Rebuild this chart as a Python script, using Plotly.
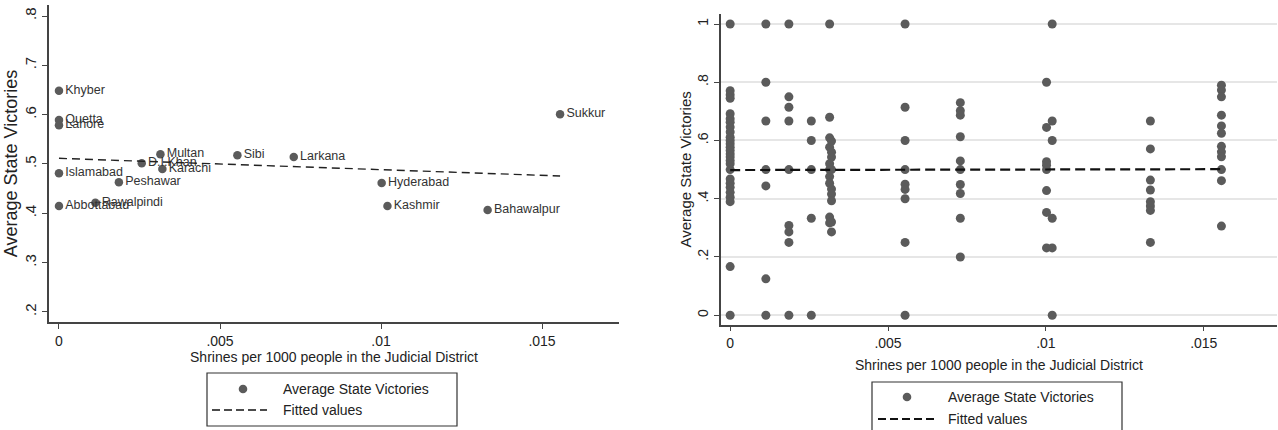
import plotly.graph_objects as go

W, H = 1278, 430
FONT = "Arial, Liberation Sans, sans-serif"
DOT = "#5b5b5b"
GRID = "#e6e6e6"
AXIS = "#444444"

# ---------------- Left panel data (district level) ----------------
districts = ["Khyber", "Quetta", "Lahore", "Islamabad", "Abbottabad", "Rawalpindi",
             "Peshawar", "D.I.Khan", "Multan", "Karachi", "Sibi", "Larkana",
             "Hyderabad", "Kashmir", "Bahawalpur", "Sukkur"]
district_shrines = [0, 0, 0, 0, 0, 0.00113, 0.00186, 0.00257, 0.00315, 0.00321,
                    0.00554, 0.00729, 0.01002, 0.0102, 0.01331, 0.01556]
district_victories = [0.6486, 0.5892, 0.5784, 0.4811, 0.4148, 0.4215, 0.4629, 0.5014,
                      0.5196, 0.4898, 0.5176, 0.5142, 0.4615, 0.4148, 0.4067, 0.6007]
left_fit_x = [0, 0.01556]
left_fit_y = [0.5115, 0.4757]

# ---------------- Right panel data (individual observations) ----------------
col_x = [0, 0.00113, 0.00186, 0.00257, 0.00315, 0.00321, 0.00554, 0.00729,
         0.01002, 0.0102, 0.01331, 0.01556]
col_vals = [
    [1, 0.771, 0.757, 0.745, 0.692, 0.675, 0.663, 0.646, 0.629, 0.611, 0.6, 0.589,
     0.577, 0.566, 0.554, 0.543, 0.531, 0.52, 0.5, 0.468, 0.453, 0.439, 0.422,
     0.405, 0.39, 0.167, 0],
    [1, 0.8, 0.667, 0.5, 0.444, 0.125, 0],
    [1, 0.75, 0.714, 0.667, 0.5, 0.308, 0.286, 0.25, 0],
    [0.667, 0.6, 0.5, 0.333, 0],
    [1, 0.68, 0.609, 0.577, 0.52, 0.5, 0.476, 0.453, 0.337, 0.317],
    [0.598, 0.56, 0.543, 0.5, 0.433, 0.416, 0.393, 0.32, 0.286],
    [1, 0.714, 0.6, 0.5, 0.45, 0.432, 0.4, 0.25, 0],
    [0.73, 0.702, 0.687, 0.613, 0.53, 0.5, 0.449, 0.418, 0.333, 0.2],
    [0.8, 0.645, 0.527, 0.515, 0.5, 0.428, 0.353, 0.231],
    [1, 0.667, 0.6, 0.333, 0.231, 0],
    [0.667, 0.571, 0.464, 0.43, 0.39, 0.375, 0.36, 0.25],
    [0.79, 0.773, 0.75, 0.687, 0.65, 0.625, 0.58, 0.561, 0.544, 0.5, 0.462, 0.306],
]
right_fit_x = [0, 0.01556]
right_fit_y = [0.4985, 0.5015]

x_ticks = [0, 0.005, 0.01, 0.015]
x_ticktext = ["0", ".005", ".01", ".015"]
left_yticks = [0.2, 0.3, 0.4, 0.5, 0.6, 0.7, 0.8]
left_yticktext = [".2", ".3", ".4", ".5", ".6", ".7", ".8"]
left_ygrid = [0.3, 0.4, 0.5, 0.6, 0.7]
right_yticks = [0, 0.2, 0.4, 0.6, 0.8, 1]
right_yticktext = ["0", ".2", ".4", ".6", ".8", "1"]

x_title = "Shrines per 1000 people in the Judicial District"
y_title = "Average State Victories"

rx, ry = [], []
for xv, vals in zip(col_x, col_vals):
    for v in vals:
        rx.append(xv)
        ry.append(v)

fig = go.Figure()

# left panel
fig.add_trace(go.Scatter(
    x=district_shrines, y=district_victories, mode="markers+text",
    text=districts, textposition="middle right",
    textfont=dict(family=FONT, size=12.5, color="#333333"),
    marker=dict(color=DOT, size=8.5), name="Average State Victories",
    xaxis="x", yaxis="y", showlegend=False, cliponaxis=False))
fig.add_trace(go.Scatter(
    x=left_fit_x, y=left_fit_y, mode="lines",
    line=dict(color="#222222", width=1.4, dash="8px,5px"),
    name="Fitted values", xaxis="x", yaxis="y", showlegend=False))

# right panel
fig.add_trace(go.Scatter(
    x=rx, y=ry, mode="markers", marker=dict(color=DOT, size=9),
    name="Average State Victories", xaxis="x2", yaxis="y2", showlegend=False,
    cliponaxis=False))
fig.add_trace(go.Scatter(
    x=right_fit_x, y=right_fit_y, mode="lines",
    line=dict(color="#111111", width=2.2, dash="10px,5px"),
    name="Fitted values", xaxis="x2", yaxis="y2", showlegend=False))


def px_x(p):
    return p / W


def px_y(p):
    return 1 - p / H


def axis_style(tick_size):
    return dict(showline=True, linecolor=AXIS, linewidth=1.5, ticks="outside",
                ticklen=5, tickcolor=AXIS, tickwidth=1.3, zeroline=False,
                tickfont=dict(family=FONT, size=tick_size, color="#222222"))


fig.update_layout(
    width=W, height=H, margin=dict(l=0, r=0, t=0, b=0),
    paper_bgcolor="white", plot_bgcolor="white",
    font=dict(family=FONT, color="#222222"),
    xaxis=dict(domain=[px_x(49), px_x(619)], range=[-0.00031, 0.01739], anchor="y",
               tickmode="array", tickvals=x_ticks, ticktext=x_ticktext, showgrid=False,
               title=dict(text=x_title, font=dict(size=14, family=FONT), standoff=2),
               **axis_style(14)),
    yaxis=dict(domain=[px_y(322), px_y(5)], range=[0.1797, 0.8223], anchor="x",
               tickmode="array", tickvals=left_yticks, ticktext=left_yticktext,
               tickangle=-90, showgrid=False,
               title=dict(text=y_title, font=dict(size=18, family=FONT), standoff=0),
               **axis_style(15)),
    yaxis3=dict(overlaying="y", anchor="x", range=[0.1797, 0.8223], tickmode="array",
                tickvals=left_ygrid, showgrid=True, gridcolor=GRID, gridwidth=1.5,
                showticklabels=False, ticks="", showline=False, zeroline=False),
    xaxis2=dict(domain=[px_x(720.7), px_x(1277)], range=[-0.0003, 0.01732], anchor="y2",
                tickmode="array", tickvals=x_ticks, ticktext=x_ticktext, showgrid=False,
                title=dict(text=x_title, font=dict(size=14, family=FONT), standoff=10),
                **axis_style(14)),
    yaxis2=dict(domain=[px_y(324.7), px_y(14)], range=[-0.0326, 1.0344], anchor="x2",
                tickmode="array", tickvals=right_yticks, ticktext=right_yticktext,
                tickangle=-90, showgrid=True, gridcolor=GRID, gridwidth=1.5,
                title=dict(text=y_title, font=dict(size=15, family=FONT), standoff=0),
                **axis_style(14)),
)

# Manual legend boxes (Stata style)
shapes = []
annotations = []


def add_legend(bx0, bx1, by0, by1, mx, row1, row2, lx0, lx1, tx, lw):
    shapes.append(dict(type="rect", xref="paper", yref="paper",
                       x0=px_x(bx0), x1=px_x(bx1), y0=px_y(by1), y1=px_y(by0),
                       line=dict(color="#333333", width=1.2), fillcolor="white"))
    r = 4.3
    shapes.append(dict(type="circle", xref="paper", yref="paper",
                       x0=px_x(mx - r), x1=px_x(mx + r), y0=px_y(row1 + r), y1=px_y(row1 - r),
                       line=dict(width=0), fillcolor=DOT))
    shapes.append(dict(type="line", xref="paper", yref="paper",
                       x0=px_x(lx0), x1=px_x(lx1), y0=px_y(row2), y1=px_y(row2),
                       line=dict(color="#111111", width=lw, dash="8px,4px")))
    for txt, ry_ in ((y_title, row1), ("Fitted values", row2)):
        annotations.append(dict(xref="paper", yref="paper", x=px_x(tx), y=px_y(ry_),
                                xanchor="left", yanchor="middle", showarrow=False,
                                text=txt, font=dict(family=FONT, size=14, color="#222222")))


add_legend(207, 457, 373, 426, 243, 389, 410, 212, 267, 281, 1.3)
add_legend(872, 1122, 382, 433, 907, 397, 419, 878, 937, 946, 2.0)

fig.update_layout(shapes=shapes, annotations=annotations)

fig.write_html("out.html", config={"displayModeBar": False},
               post_script="document.body.style.margin='0';document.body.style.padding='0';")
